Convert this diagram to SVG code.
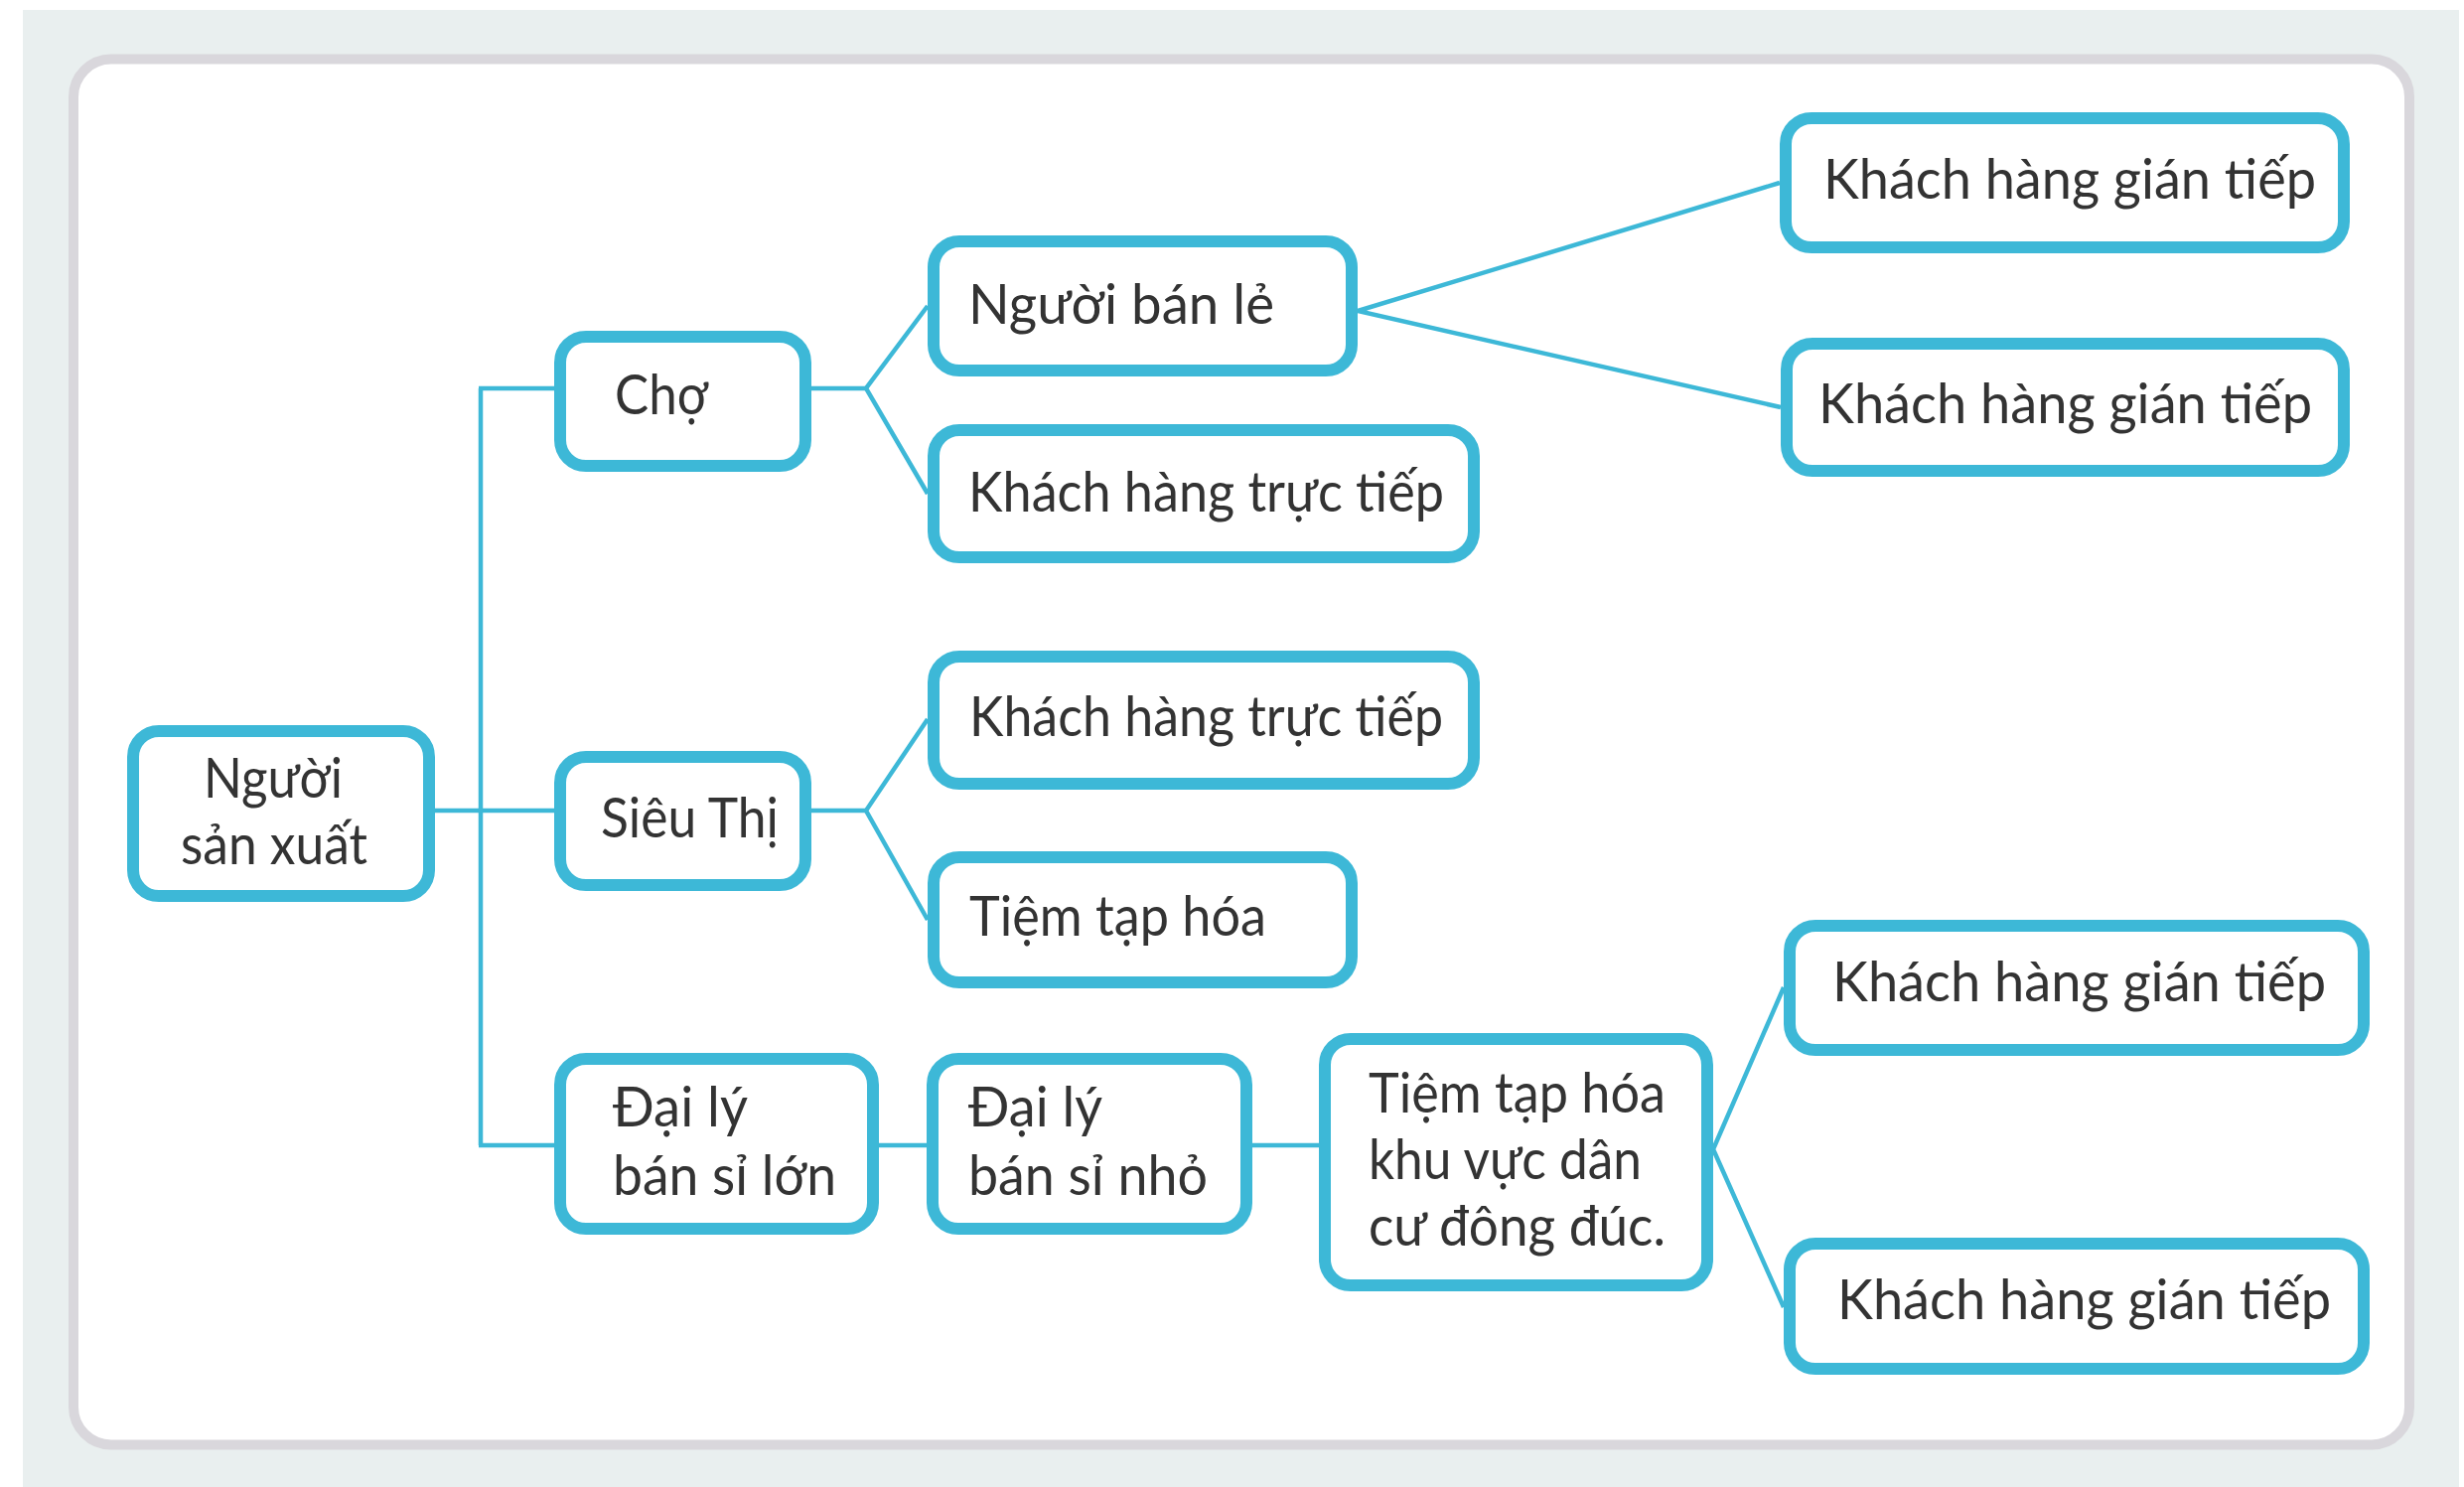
<svg xmlns="http://www.w3.org/2000/svg" width="2481" height="1497" viewBox="0 0 2481 1497">
  <style>
    .node rect { fill: #ffffff; stroke: #3db8d7; stroke-width: 12; }
    .node text { font-family: Lato, "Noto Sans", "Liberation Sans", sans-serif; font-size: 56px; fill: #333333; }
    .links line, .links polyline { stroke: #3db8d7; stroke-width: 4.5; fill: none; stroke-linejoin: miter; }
  </style>

  <!-- backdrop and frame -->
  <rect x="0" y="0" width="2481" height="1497" fill="#ffffff"/>
  <rect x="23" y="10" width="2453" height="1487" fill="#e9efef"/>
  <rect x="74" y="59.5" width="2352" height="1395" rx="38" ry="38" fill="#ffffff" stroke="#d9d7dc" stroke-width="10"/>

  <!-- connectors -->
  <g id="connectors" class="links">
    <line x1="438" y1="816" x2="558" y2="816"/>
    <line x1="484" y1="391" x2="484" y2="1153"/>
    <line x1="482" y1="391" x2="558" y2="391"/>
    <line x1="482" y1="1153" x2="558" y2="1153"/>
    <polyline points="934,308 872,391 934,497"/>
    <line x1="817" y1="391" x2="872" y2="391"/>
    <polyline points="934,724 872,816 934,926"/>
    <line x1="817" y1="816" x2="872" y2="816"/>
    <line x1="885" y1="1153" x2="933" y2="1153"/>
    <line x1="1261" y1="1153" x2="1328" y2="1153"/>
    <polyline points="1796,994 1725,1157 1796,1316"/>
    <polyline points="1792,184 1367,313 1793,410"/>
  </g>

  <!-- nodes -->
  <g id="nguoi-san-xuat" class="node">
    <rect x="134" y="736" width="298" height="166" rx="26"/>
    <text x="205" y="803" textLength="140" lengthAdjust="spacingAndGlyphs">Người</text>
    <text x="182" y="870" textLength="188" lengthAdjust="spacingAndGlyphs">sản xuất</text>
  </g>
  <g id="cho" class="node">
    <rect x="564" y="339" width="247" height="130" rx="26"/>
    <text x="619" y="417" textLength="94" lengthAdjust="spacingAndGlyphs">Chợ</text>
  </g>
  <g id="sieu-thi" class="node">
    <rect x="564" y="762" width="247" height="129" rx="26"/>
    <text x="605" y="843" textLength="179" lengthAdjust="spacingAndGlyphs">Siêu Thị</text>
  </g>
  <g id="dai-ly-lon" class="node">
    <rect x="564" y="1066" width="315" height="171" rx="26"/>
    <text x="617" y="1134" textLength="136" lengthAdjust="spacingAndGlyphs">Đại lý</text>
    <text x="617" y="1203" textLength="225" lengthAdjust="spacingAndGlyphs">bán sỉ lớn</text>
  </g>
  <g id="nguoi-ban-le" class="node">
    <rect x="940" y="243" width="421" height="130" rx="26"/>
    <text x="975" y="326" textLength="308" lengthAdjust="spacingAndGlyphs">Người bán lẻ</text>
  </g>
  <g id="khach-truc-tiep-1" class="node">
    <rect x="940" y="433" width="544" height="128" rx="26"/>
    <text x="975" y="515" textLength="479" lengthAdjust="spacingAndGlyphs">Khách hàng trực tiếp</text>
  </g>
  <g id="khach-truc-tiep-2" class="node">
    <rect x="940" y="661" width="544" height="128" rx="26"/>
    <text x="976" y="741" textLength="477" lengthAdjust="spacingAndGlyphs">Khách hàng trực tiếp</text>
  </g>
  <g id="tiem-tap-hoa" class="node">
    <rect x="940" y="863" width="421" height="126" rx="26"/>
    <text x="976" y="942" textLength="299" lengthAdjust="spacingAndGlyphs">Tiệm tạp hóa</text>
  </g>
  <g id="dai-ly-nho" class="node">
    <rect x="939" y="1066" width="316" height="171" rx="26"/>
    <text x="975" y="1134" textLength="135" lengthAdjust="spacingAndGlyphs">Đại lý</text>
    <text x="975" y="1203" textLength="241" lengthAdjust="spacingAndGlyphs">bán sỉ nhỏ</text>
  </g>
  <g id="tiem-khu-dan-cu" class="node">
    <rect x="1334" y="1046" width="385" height="248" rx="26"/>
    <text x="1378" y="1120" textLength="299" lengthAdjust="spacingAndGlyphs">Tiệm tạp hóa</text>
    <text x="1378" y="1187" textLength="275" lengthAdjust="spacingAndGlyphs">khu vực dân</text>
    <text x="1378" y="1254" textLength="299" lengthAdjust="spacingAndGlyphs">cư đông đúc.</text>
  </g>
  <g id="khach-gian-tiep-1" class="node">
    <rect x="1798" y="119" width="562" height="130" rx="26"/>
    <text x="1836" y="200" textLength="496" lengthAdjust="spacingAndGlyphs">Khách hàng gián tiếp</text>
  </g>
  <g id="khach-gian-tiep-2" class="node">
    <rect x="1799" y="346" width="561" height="128" rx="26"/>
    <text x="1831" y="426" textLength="497" lengthAdjust="spacingAndGlyphs">Khách hàng gián tiếp</text>
  </g>
  <g id="khach-gian-tiep-3" class="node">
    <rect x="1802" y="932" width="578" height="125" rx="26"/>
    <text x="1845" y="1008" textLength="497" lengthAdjust="spacingAndGlyphs">Khách hàng gián tiếp</text>
  </g>
  <g id="khach-gian-tiep-4" class="node">
    <rect x="1802" y="1252" width="578" height="126" rx="26"/>
    <text x="1850" y="1328" textLength="497" lengthAdjust="spacingAndGlyphs">Khách hàng gián tiếp</text>
  </g>
</svg>
